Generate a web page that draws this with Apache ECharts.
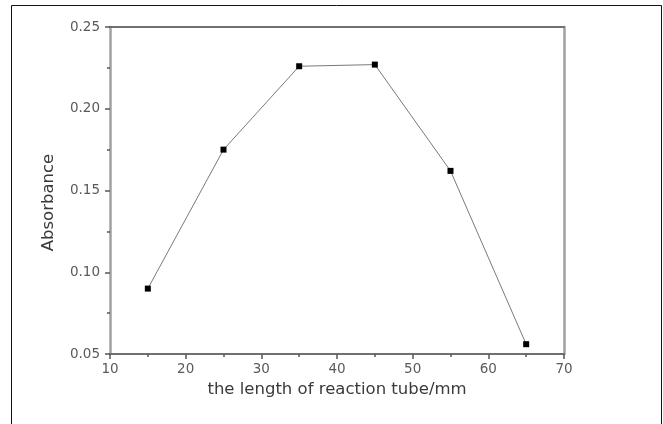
<!DOCTYPE html>
<html>
<head>
<meta charset="utf-8">
<script src="https://cdn.jsdelivr.net/npm/echarts@6/dist/echarts.min.js"></script>
<style>
  html, body { margin: 0; padding: 0; background: #fff; }
  #chart { width: 663px; height: 424px; }
</style>
</head>
<body>
<div id="chart"></div>
<script>
// Tube length (mm) vs. measured absorbance
const tubeLength = [15, 25, 35, 45, 55, 65];
const absorbance = [0.090, 0.175, 0.226, 0.227, 0.162, 0.056];
const xTicks = [10, 20, 30, 40, 50, 60, 70];
const yTicks = [0.05, 0.10, 0.15, 0.20, 0.25];

const fontFamily = 'DejaVu Sans, Verdana, sans-serif';
const tickColor = '#555';
const labelStyle = { color: '#5a5a5a', fontSize: 13.5, fontFamily: fontFamily };
const nameStyle = { color: '#3a3a3a', fontSize: 16.5, fontFamily: fontFamily };

const chart = echarts.init(document.getElementById('chart'));

chart.setOption({
  animation: false,
  backgroundColor: '#fff',
  grid: { left: 110, right: 99, top: 27, bottom: 70 },
  graphic: [{
    type: 'rect',
    shape: { x: 11.5, y: 5.5, width: 650, height: 440 },
    style: { fill: 'none', stroke: '#111', lineWidth: 1 },
    silent: true
  }],
  xAxis: [
    {
      type: 'value', position: 'bottom',
      min: xTicks[0], max: xTicks[xTicks.length - 1], interval: 10,
      axisLine: { show: true, lineStyle: { color: '#707070', width: 2 } },
      splitLine: { show: false },
      axisTick: { show: true, inside: false, length: 5, lineStyle: { color: tickColor, width: 1.5 } },
      minorTick: { show: true, splitNumber: 2, length: 3, lineStyle: { color: tickColor, width: 1.5 } },
      axisLabel: Object.assign({ margin: 8 }, labelStyle),
      name: 'the length of reaction tube/mm',
      nameLocation: 'middle', nameGap: 25,
      nameTextStyle: nameStyle
    },
    {
      type: 'value', position: 'top',
      min: xTicks[0], max: xTicks[xTicks.length - 1], interval: 10,
      axisLine: { show: true, lineStyle: { color: '#707070', width: 2 } },
      splitLine: { show: false },
      axisTick: { show: false }, axisLabel: { show: false }
    }
  ],
  yAxis: [
    {
      type: 'value', position: 'left',
      min: yTicks[0], max: yTicks[yTicks.length - 1], interval: 0.05,
      axisLine: { show: true, lineStyle: { color: '#a0a0a0', width: 2.5 } },
      splitLine: { show: false },
      axisTick: { show: true, inside: false, length: 5, lineStyle: { color: tickColor, width: 1.5 } },
      minorTick: { show: true, splitNumber: 2, length: 3, lineStyle: { color: tickColor, width: 1.5 } },
      axisLabel: Object.assign({ margin: 10, formatter: v => v.toFixed(2) }, labelStyle),
      name: 'Absorbance',
      nameLocation: 'middle', nameGap: 53,
      nameTextStyle: Object.assign({ padding: [0, 24, 0, 0] }, nameStyle)
    },
    {
      type: 'value', position: 'right',
      min: yTicks[0], max: yTicks[yTicks.length - 1], interval: 0.05,
      axisLine: { show: true, lineStyle: { color: '#a0a0a0', width: 2.5 } },
      splitLine: { show: false },
      axisTick: { show: false }, axisLabel: { show: false }
    }
  ],
  series: [{
    type: 'line',
    data: tubeLength.map((x, i) => [x, absorbance[i]]),
    symbol: 'rect',
    symbolSize: 6,
    itemStyle: { color: '#000' },
    lineStyle: { color: '#7a7a7a', width: 1 }
  }]
});
</script>
</body>
</html>
